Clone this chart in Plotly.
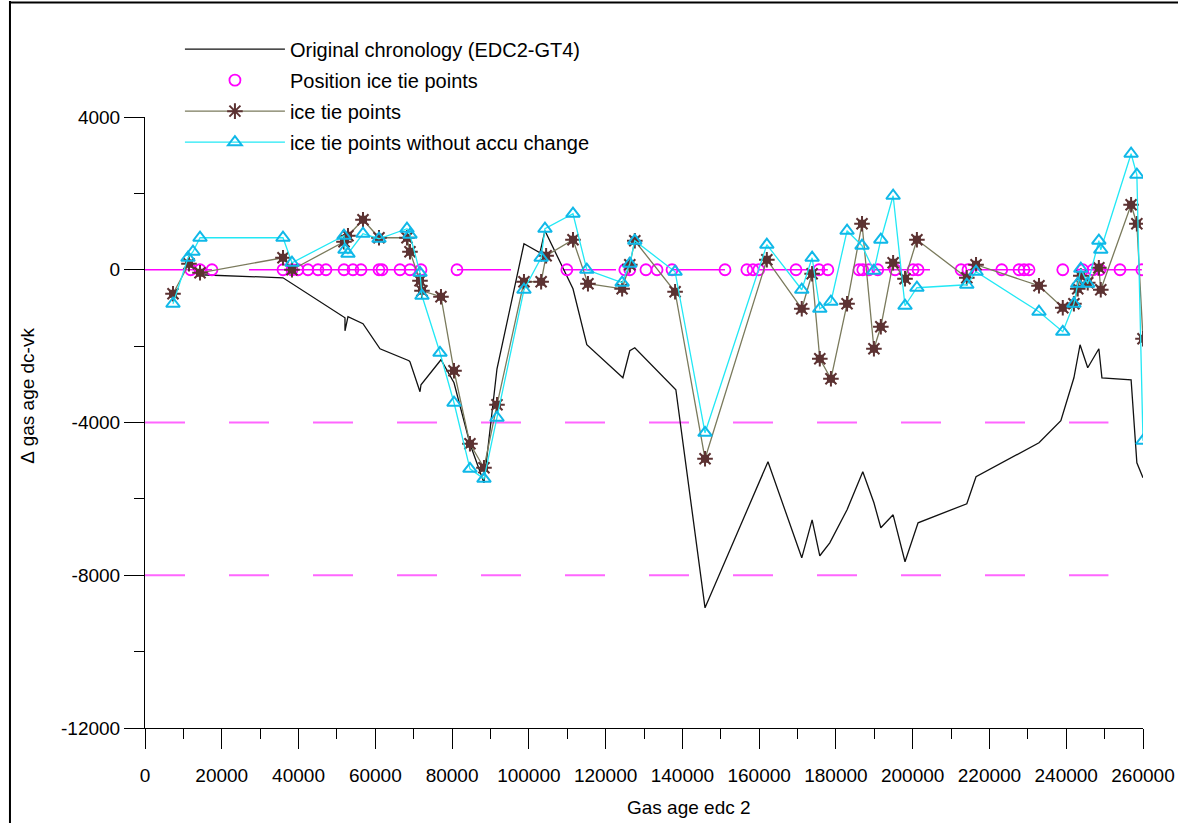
import plotly.graph_objects as go

# Original chronology (EDC2-GT4): gas age vs delta gas age
chron_age = [11500, 14330, 35950, 52100, 52100, 52880, 56790, 61220, 68770, 69030,
             71640, 71900, 77110, 80500, 84660, 88310, 91700, 98730, 102900, 104200,
             111500, 115100, 124500, 126300, 127600, 138300, 145900, 162300, 171100,
             173800, 175800, 178400, 182900, 187000, 189900, 191700, 194900, 198000,
             201400, 214100, 216500, 232900, 238600, 242000, 243600, 245600, 248500,
             249300, 256900, 258400, 260000]
chron_delta = [290, -131, -210, -1257, -1600, -1230, -1414, -2069, -2383, -2410,
               -3195, -3012, -2357, -2960, -4557, -5580, -2593, 681, 445, 1021,
               -498, -1964, -2829, -2121, -2043, -3143, -8852, -5028, -7543,
               -6548, -7490, -7150, -6286, -5290, -6102, -6757, -6417, -7647,
               -6626, -6128, -5421, -4531, -3955, -2829, -1964, -2567, -2069,
               -2829, -2881, -5055, -5448]

# Ice tie points
tie_age = [7294, 11460, 14330, 35950, 38290, 51840, 52880, 56790, 60960, 68250,
           69030, 71640, 72160, 77110, 80500, 84660, 88310, 91700, 98730, 103200,
           104500, 111500, 115400, 124300, 126300, 127600, 138100, 145900, 162000,
           171100, 173800, 175800, 178700, 182900, 186800, 189900, 191700, 194900,
           198000, 201100, 214100, 216500, 232900, 239100, 242000, 243000, 243800,
           245600, 248500, 249000, 256900, 258400, 260000]
tie_delta = [-629, 157, -79, 314, 0, 733, 890, 1310, 838, 838,
             471, -288, -550, -707, -2645, -4557, -5186, -3536, -314, -314,
             367, 786, -367, -498, 131, 760, -576, -4950, 262,
             -1021, -105, -2331, -2855, -891, 1205, -2069, -1493, 183,
             -236, 786, -210, 131, -419, -995, -890, -498, -157,
             -340, 52, -524, 1702, 1205, -1807]

# Ice tie points without accumulation change
noacc_age = [7294, 11200, 12500, 14330, 35950, 38290, 51840, 52100, 52880, 56790,
             60960, 68250, 69030, 71640, 72160, 76850, 80500, 84660, 88310, 91700,
             98730, 103200, 104200, 111500, 115100, 124300, 126300, 127600, 138100,
             145900, 162000, 171100, 173800, 175800, 178700, 182900, 186800, 189900,
             191700, 194900, 198000, 201100, 214100, 216500, 232900, 239100, 242000,
             243000, 243800, 245600, 248500, 249000, 256900, 258400, 260000]
noacc_delta = [-890, 314, 471, 838, 838, 183, 890, 524, 419, 943,
               812, 1074, 917, -79, -681, -2174, -3483, -5212, -5474, -3876,
               -524, 314, 1074, 1467, 0, -340, 157, 760, -52,
               -4269, 655, -524, 314, -1021, -838, 1021, 629, -26,
               786, 1938, -943, -471, -393, -52, -1100, -1624, -890,
               -367, 26, -367, 760, 524, 3038, 2488, -4478]

# Positions of the ice tie points (plotted on the zero line)
pos_age = [11900, 14330, 17450, 35950, 38290, 39860, 42460, 45070, 47150, 51840,
           54180, 56270, 60960, 61740, 66430, 69030, 71900, 81280, 109900, 125000,
           126300, 130500, 133400, 137300, 151100, 156800, 158400, 159900, 169600,
           175600, 177900, 186000, 187000, 188600, 190900, 195400, 200100, 201400,
           212600, 214400, 223200, 227700, 229000, 230300, 239100, 244300, 247000,
           248800, 254000, 259700]

# Stretches of the zero reference line
zero_spans = [(0, 17450), (27100, 71900), (81280, 95350), (108900, 122700),
              (137300, 151100), (159900, 177900), (190000, 204500),
              (214400, 231300), (243000, 259700)]

# Dashed reference levels
ref_levels = [-4000, -8000]
ref_end = 251000

x_ticks = list(range(0, 260001, 20000))
y_ticks = [-12000, -8000, -4000, 0, 4000]

FONT = "Arial, Liberation Sans, sans-serif"
STAR = "#5c3232"

fig = go.Figure()

# dashed reference levels
for lvl in ref_levels:
    fig.add_trace(go.Scatter(
        x=[0, ref_end], y=[lvl, lvl], mode="lines",
        line=dict(color="#ff66ff", width=2, dash="40px,44px"),
        showlegend=False, hoverinfo="skip"))

# zero line pieces
zx, zy = [], []
for a, b in zero_spans:
    zx += [a, b, None]
    zy += [0, 0, None]
fig.add_trace(go.Scatter(
    x=zx, y=zy, mode="lines", line=dict(color="#ff00ff", width=1.5),
    showlegend=False, hoverinfo="skip"))

fig.add_trace(go.Scatter(
    x=chron_age, y=chron_delta, mode="lines",
    name="Original chronology (EDC2-GT4)", legendgroup="g1",
    line=dict(color="#111111", width=1.3)))

fig.add_trace(go.Scatter(
    x=pos_age, y=[0] * len(pos_age), mode="markers",
    name="Position ice tie points", legendgroup="g2",
    marker=dict(symbol="circle-open", size=11, color="#ff00ff",
                line=dict(width=1.8, color="#ff00ff"))))

# ice tie points: asterisk spokes with a filled core
fig.add_trace(go.Scatter(
    x=tie_age, y=tie_delta, mode="lines+markers",
    name="ice tie points", legendgroup="g3",
    line=dict(color="#7a7a5c", width=1.3),
    marker=dict(symbol="asterisk-open", size=13, color=STAR,
                line=dict(width=2, color=STAR))))
fig.add_trace(go.Scatter(
    x=tie_age, y=tie_delta, mode="markers", legendgroup="g3",
    showlegend=False, hoverinfo="skip",
    marker=dict(symbol="square", size=8, color=STAR,
                line=dict(width=0))))

fig.add_trace(go.Scatter(
    x=noacc_age, y=noacc_delta, mode="lines+markers",
    name="ice tie points without accu change", legendgroup="g4",
    line=dict(color="#22e8f5", width=1.3),
    marker=dict(symbol="triangle-up-open", size=12, color="#10b8e8",
                line=dict(width=2, color="#10b8e8"))))

fig.update_layout(
    template="none",
    width=1178, height=823, autosize=False,
    margin=dict(l=145, r=35, t=117, b=95, autoexpand=False),
    paper_bgcolor="white", plot_bgcolor="white",
    font=dict(family=FONT, size=19, color="black"),
    showlegend=True,
    legend=dict(x=0.035, y=1.143, xanchor="left", yanchor="top",
                bgcolor="rgba(0,0,0,0)", borderwidth=0, font=dict(size=20),
                itemwidth=100, traceorder="grouped", tracegroupgap=2),
    xaxis=dict(range=[0, 260000], tickvals=x_ticks,
               ticktext=[str(v) for v in x_ticks], automargin=False,
               showgrid=False, zeroline=False, showline=True,
               linecolor="black", linewidth=1,
               ticks="outside", ticklen=20, tickwidth=1, tickcolor="black",
               ticklabelstandoff=10,
               minor=dict(dtick=10000, ticks="outside", ticklen=10,
                          tickcolor="black", tickwidth=1, showgrid=False),
               tickfont=dict(size=19)),
    yaxis=dict(range=[-12000, 4000], tickvals=y_ticks,
               ticktext=[str(v) for v in y_ticks], automargin=False,
               showgrid=False, zeroline=False, showline=True,
               linecolor="black", linewidth=1,
               ticks="outside", ticklen=20, tickwidth=1, tickcolor="black",
               minor=dict(dtick=2000, ticks="outside", ticklen=10,
                          tickcolor="black", tickwidth=1, showgrid=False),
               tickfont=dict(size=19)),
    annotations=[
        dict(text="Gas age edc 2", xref="paper", yref="paper",
             x=0.545, y=-0.13, xanchor="center", yanchor="middle",
             showarrow=False, font=dict(size=19)),
        dict(text="\u2206 gas age dc-vk", xref="paper", yref="paper",
             x=-0.118, y=0.545, xanchor="center", yanchor="middle",
             textangle=-90, showarrow=False, font=dict(size=19)),
    ],
    shapes=[
        dict(type="line", xref="paper", yref="paper",
             x0=-0.1353, x1=-0.1353, y0=-0.156, y1=1.19,
             line=dict(color="black", width=2)),
        dict(type="line", xref="paper", yref="paper",
             x0=-0.1353, x1=1.036, y0=1.1875, y1=1.1875,
             line=dict(color="black", width=2)),
    ],
)

fig.write_html("out.html", config={"displayModeBar": False})
